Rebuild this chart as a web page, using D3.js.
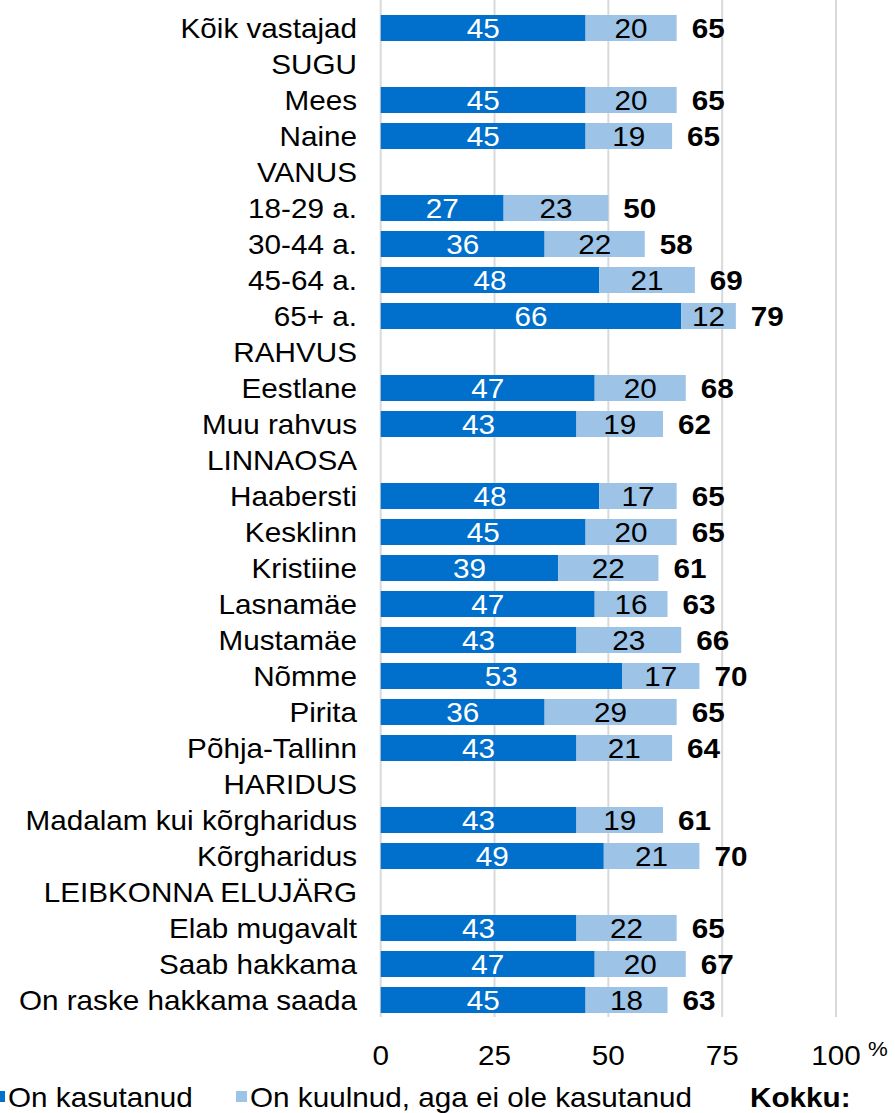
<!DOCTYPE html>
<html><head><meta charset="utf-8">
<script src="https://cdn.jsdelivr.net/npm/d3@7"></script>
<style>body{margin:0;background:#fff}svg{display:block}</style>
</head><body>
<script>
const categories = ["Kõik vastajad","SUGU","Mees","Naine","VANUS","18-29 a.","30-44 a.","45-64 a.","65+ a.","RAHVUS","Eestlane","Muu rahvus","LINNAOSA","Haabersti","Kesklinn","Kristiine","Lasnamäe","Mustamäe","Nõmme","Pirita","Põhja-Tallinn","HARIDUS","Madalam kui kõrgharidus","Kõrgharidus","LEIBKONNA ELUJÄRG","Elab mugavalt","Saab hakkama","On raske hakkama saada"];
const used  = [45,null,45,45,null,27,36,48,66,null,47,43,null,48,45,39,47,43,53,36,43,null,43,49,null,43,47,45];
const heard = [20,null,20,19,null,23,22,21,12,null,20,19,null,17,20,22,16,23,17,29,21,null,19,21,null,22,20,18];
const total = [65,null,65,65,null,50,58,69,79,null,68,62,null,65,65,61,63,66,70,65,64,null,61,70,null,65,67,63];
const ticks = [0,25,50,75,100];
const unitLabel = "%";
const seriesNames = ["On kasutanud","On kuulnud, aga ei ole kasutanud"];
const totalLabel = "Kokku:";
const colors = ["#0070CC","#9DC3E6"];

const W=895,H=1113;
const svg=d3.select("body").append("svg").attr("width",W).attr("height",H)
  .style("font-family","'Liberation Sans', Arial, sans-serif");
const x=d3.scaleLinear().domain([0,100]).range([380.7,836]);
const rowH=36;
const y=d3.scaleBand().domain(categories)
  .range([28-rowH/2, 28-rowH/2+rowH*categories.length]).paddingInner(10/36).paddingOuter(5/36);
const bh=y.bandwidth();
const yc=c=>y(c)+bh/2;
const fs=28, sx=1.06;

function txt(g, data, fx, fy, anchor, opts={}){
  return g.selectAll(null).data(data).join("text")
    .attr("transform",d=>`translate(${fx(d)},${fy(d)}) scale(${sx},1)`)
    .attr("dy","0.36em").attr("text-anchor",anchor)
    .attr("fill",opts.fill||"#000").attr("font-size",opts.size||fs)
    .attr("font-weight",opts.bold?"bold":"normal");
}

// gridlines
svg.append("g").selectAll("line").data(ticks).join("line")
  .attr("x1",d=>x(d)).attr("x2",d=>x(d)).attr("y1",0).attr("y2",1017)
  .attr("stroke","#d9d9d9").attr("stroke-width",2);

const rows=categories.map((c,i)=>({c,i,u:used[i],h:heard[i],t:total[i]}));
const br=rows.filter(r=>r.u!==null);
svg.append("g").selectAll("rect").data(br).join("rect")
  .attr("x",x(0)).attr("y",r=>y(r.c)).attr("width",r=>x(r.u)-x(0)).attr("height",bh).attr("fill",colors[0]);
svg.append("g").selectAll("rect").data(br).join("rect")
  .attr("x",r=>x(r.u)).attr("y",r=>y(r.c)).attr("width",r=>x(r.u+r.h)-x(r.u)).attr("height",bh).attr("fill",colors[1]);

const g=svg.append("g");
txt(g,br,r=>(x(0)+x(r.u))/2,r=>yc(r.c),"middle",{fill:"#fff"}).text(r=>r.u);
txt(g,br,r=>(x(r.u)+x(r.u+r.h))/2,r=>yc(r.c),"middle").text(r=>r.h);
txt(g,br,r=>x(r.u+r.h)+15,r=>yc(r.c),"start",{bold:true}).text(r=>r.t);
txt(g,rows,r=>357,r=>yc(r.c),"end").text(r=>r.c);

// axis ticks
txt(g,ticks,d=>x(d),d=>1055,"middle").text(d=>d);
txt(g,[unitLabel],d=>x(100)+32,d=>1048,"start",{size:21}).text(d=>d);

// legend
const lg=svg.append("g");
lg.append("rect").attr("x",-6).attr("y",1091).attr("width",11).attr("height",11).attr("fill",colors[0]);
txt(lg,[seriesNames[0]],d=>8,d=>1097,"start").text(d=>d);
lg.append("rect").attr("x",236).attr("y",1091).attr("width",11).attr("height",11).attr("fill",colors[1]);
txt(lg,[seriesNames[1]],d=>250,d=>1097,"start").text(d=>d);
txt(lg,[totalLabel],d=>750,d=>1097,"start",{bold:true}).text(d=>d);
</script>
</body></html>
